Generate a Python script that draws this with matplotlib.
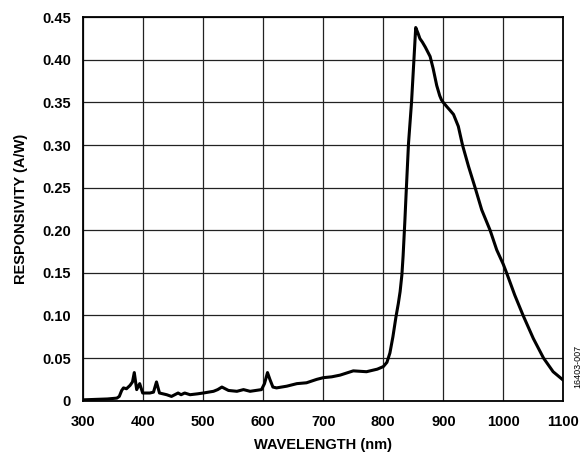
import matplotlib
matplotlib.use('Agg')
import matplotlib.pyplot as plt

plt.rcParams['font.family'] = ['Liberation Sans', 'DejaVu Sans']

# responsivity curve
wavelength = [300, 340, 356, 360, 364, 367, 372, 378, 382, 385, 389, 394, 399,
              411, 417, 422, 427, 439, 447, 458, 463, 469, 478, 490, 500,
              517, 524, 531, 542, 556, 567, 578, 597, 602, 607, 611, 616,
              622, 639, 656, 672, 689, 700, 714, 728, 750, 772, 790, 800,
              806, 811, 816, 821, 825, 828, 831, 833, 836, 838, 842, 847, 851,
              854, 858, 861, 865, 870, 878, 883, 889, 894, 897, 900, 906,
              911, 917, 925, 932, 942, 953, 964, 978, 989, 1000, 1006, 1019,
              1033, 1050, 1067, 1083, 1100]
responsivity = [0.001, 0.002, 0.003, 0.005, 0.012, 0.015, 0.014, 0.018, 0.022,
                0.033, 0.013, 0.020, 0.009, 0.009, 0.010, 0.022, 0.009, 0.007,
                0.005, 0.009, 0.007, 0.009, 0.007, 0.008, 0.009, 0.011, 0.013,
                0.016, 0.012, 0.011, 0.013, 0.011, 0.013, 0.020, 0.033, 0.025,
                0.016, 0.015, 0.017, 0.020, 0.021, 0.025, 0.027, 0.028, 0.030,
                0.035, 0.034, 0.037, 0.040, 0.045, 0.056, 0.075, 0.098, 0.114,
                0.128, 0.148, 0.170, 0.212, 0.243, 0.302, 0.350, 0.400, 0.438,
                0.431, 0.425, 0.421, 0.415, 0.404, 0.390, 0.370, 0.358, 0.353,
                0.350, 0.345, 0.341, 0.336, 0.322, 0.300, 0.275, 0.250, 0.224,
                0.200, 0.177, 0.160, 0.149, 0.124, 0.100, 0.073, 0.050, 0.034,
                0.024]

x_ticks = [300, 400, 500, 600, 700, 800, 900, 1000, 1100]
y_ticks = [0, 0.05, 0.10, 0.15, 0.20, 0.25, 0.30, 0.35, 0.40, 0.45]
y_labels = ['0', '0.05', '0.10', '0.15', '0.20', '0.25', '0.30', '0.35', '0.40', '0.45']

fig = plt.figure(figsize=(5.84, 4.53), dpi=100)
ax = fig.add_axes([0.1426, 0.1155, 0.822, 0.8463])

ax.plot(wavelength, responsivity, color='black', linewidth=2.2, zorder=3)

ax.set_xlim(300, 1100)
ax.set_ylim(0, 0.45)
ax.set_xticks(x_ticks)
ax.set_yticks(y_ticks)
ax.set_yticklabels(y_labels)
ax.tick_params(axis='x', length=0, labelsize=10.5, pad=10)
ax.tick_params(axis='y', length=0, labelsize=10.5, pad=9)
for lab in ax.get_xticklabels() + ax.get_yticklabels():
    lab.set_fontweight('bold')

ax.grid(True, color='#222222', linewidth=0.9)
for s in ax.spines.values():
    s.set_linewidth(1.3)

ax.set_xlabel('WAVELENGTH (nm)', fontsize=10.5, fontweight='bold', labelpad=7)
ax.set_ylabel('RESPONSIVITY (A/W)', fontsize=10.5, fontweight='bold', labelpad=10)

fig.text(0.997, 0.19, '16403-007', rotation=90, fontsize=6.5,
         ha='right', va='center')

fig.savefig('out.png', dpi=100)
